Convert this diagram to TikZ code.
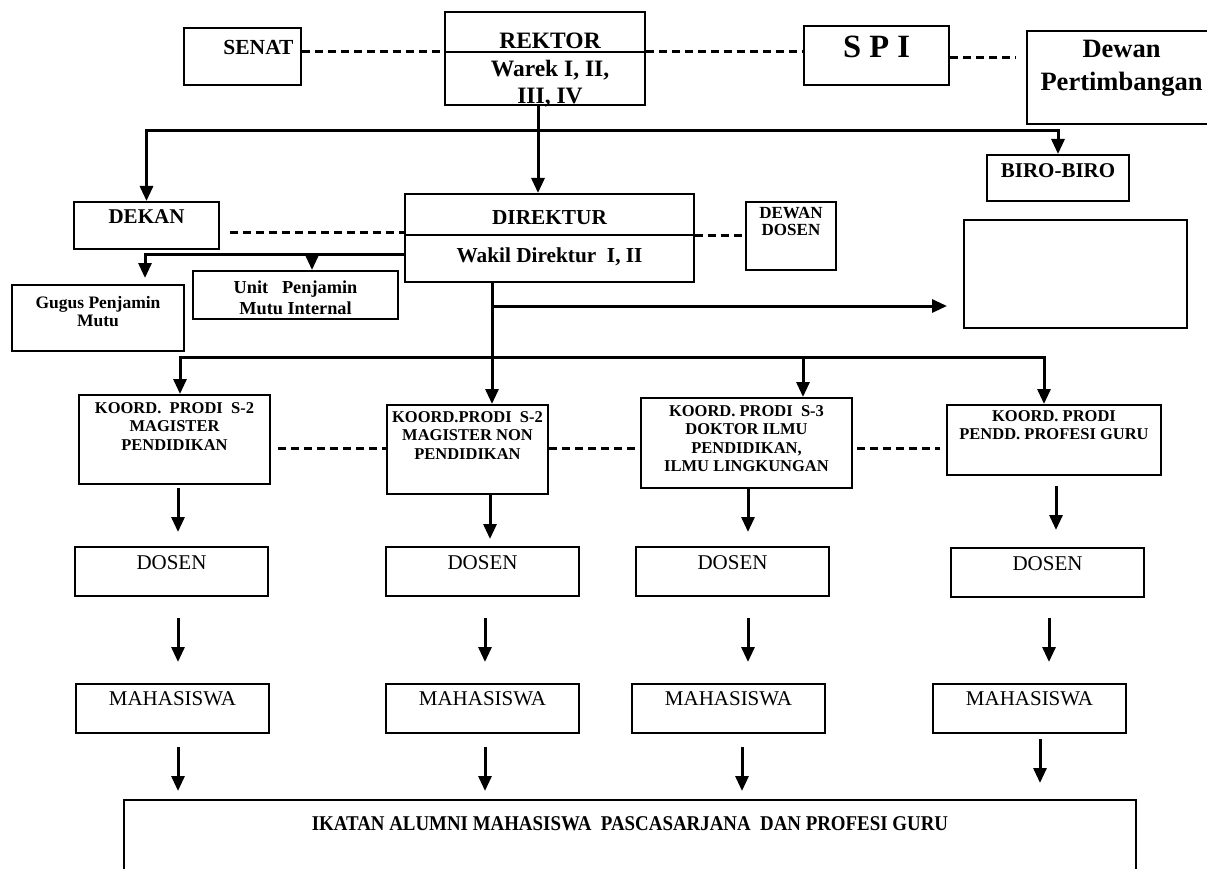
\documentclass[tikz,border=0pt]{standalone}
\usepackage{fontspec}
\setmainfont{Liberation Serif}
\newfontfamily\sempit[FakeStretch=0.9]{Liberation Serif}
\usetikzlibrary{arrows.meta, calc}
\newcommand{\uk}[2]{\fontsize{#1}{#2}\selectfont}
\newcommand{\baris}[1]{\begin{tabular}[t]{@{}c@{}}#1\end{tabular}}
\tikzstyle{kotak} = [rectangle, draw=black, line width=2pt, inner sep=0pt, anchor=north west, fill=white]
\tikzstyle{koord} = [kotak, font=\bfseries\uk{16.5}{18.3}]
\tikzstyle{tingkat} = [kotak, font=\uk{21}{25}, minimum width=193pt]
\tikzstyle{garis} = [line width=3pt, line cap=rect]
\tikzstyle{panah} = [line width=3pt, line cap=rect, -{Triangle[width=13pt,length=15pt]}]
\tikzstyle{putus} = [line width=3pt, dash pattern=on 8pt off 5pt]

\begin{document}
\begin{tikzpicture}[x=1pt, y=-1pt]
        \fill[white] (0,0) rectangle (1207,869);
        \clip (0,0) rectangle (1207,869);
        % pimpinan universitas
        \node (senat) [kotak, font=\bfseries\uk{21.5}{25}, minimum width=117pt, text height=27pt, text depth=30pt] at (183,27) {\hspace*{32pt}SENAT};
        \node (rektor) [kotak, font=\bfseries\uk{23.5}{27.5}, minimum width=200pt, text height=36.8pt, text depth=56.2pt] at (444,11) {\hspace*{10pt}\baris{REKTOR\\Warek I, II,\\III, IV}};
        \node (spi) [kotak, font=\bfseries\uk{32.5}{38}, minimum width=145pt, text height=31.8pt, text depth=27.2pt] at (803,25) {S P I};
        \node (dewan) [kotak, font=\bfseries\uk{26.5}{33}, minimum width=189pt, text height=26.3pt, text depth=66.7pt] at (1026,30) {\baris{Dewan\\Pertimbangan}};
        \node (biro) [kotak, font=\bfseries\uk{21}{25}, minimum width=142pt, text height=23pt, text depth=23pt] at (986,154) {BIRO-BIRO};
        \coordinate (rekbagi) at ([yshift=-41pt]rektor.north);
        \draw[line width=2pt] (rektor.west |- rekbagi) -- (rektor.east |- rekbagi);

        % pascasarjana
        \node (dekan) [kotak, font=\bfseries\uk{21}{25}, minimum width=145pt, text height=21pt, text depth=26pt] at (73,201) {DEKAN};
        \node (direktur) [kotak, font=\bfseries\uk{21.3}{38}, minimum width=289pt, text height=31pt, text depth=57pt] at (404,193) {\baris{DIREKTUR\\Wakil Direktur\ \ I, II}};
        \node (dewandosen) [kotak, font=\bfseries\uk{17}{17}, minimum width=90pt, text height=16.6pt, text depth=51.4pt] at (745,201) {\baris{DEWAN\\DOSEN}};
        \node (gugus) [kotak, font=\bfseries\uk{17.5}{18}, minimum width=172pt, text height=23.8pt, text depth=42.2pt] at (11,284) {\baris{Gugus Penjamin\\Mutu}};
        \node (unit) [kotak, font=\bfseries\uk{18.3}{21}, minimum width=205pt, text height=22pt, text depth=26pt] at (192,270) {\baris{Unit\ \ \ Penjamin\\Mutu Internal}};
        \node (kosong) [kotak, minimum width=223pt, minimum height=108pt] at (963,219) {};
        \coordinate (dirbagi) at ([yshift=-42pt]direktur.north);
        \draw[line width=2pt] (direktur.west |- dirbagi) -- (direktur.east |- dirbagi);

        % program studi
        \node (koord1) [koord, minimum width=191pt, text height=18.5pt, text depth=70.5pt] at (78,394) {\baris{KOORD.\ \ PRODI\ \ S-2\\MAGISTER\\PENDIDIKAN}};
        \node (koord2) [koord, minimum width=161pt, text height=17.5pt, text depth=71.5pt] at (386,404) {\baris{KOORD.PRODI\ \ S-2\\MAGISTER NON\\PENDIDIKAN}};
        \node (koord3) [koord, minimum width=211pt, text height=18.5pt, text depth=71.5pt] at (640,397) {\baris{KOORD. PRODI\ \ S-3\\DOKTOR ILMU\\PENDIDIKAN,\\ILMU LINGKUNGAN}};
        \node (koord4) [koord, minimum width=214pt, text height=16.5pt, text depth=53.5pt] at (946,404) {\baris{KOORD. PRODI\\PENDD. PROFESI GURU}};

        \node (dosen1) [tingkat, text height=22pt, text depth=27pt] at (74,546) {DOSEN};
        \node (dosen2) [tingkat, text height=22pt, text depth=27pt] at (385,546) {DOSEN};
        \node (dosen3) [tingkat, text height=22pt, text depth=27pt] at (635,546) {DOSEN};
        \node (dosen4) [tingkat, text height=22pt, text depth=27pt] at (950,547) {DOSEN};

        \node (maha1) [tingkat, text height=21pt, text depth=28pt] at (75,683) {MAHASISWA};
        \node (maha2) [tingkat, text height=21pt, text depth=28pt] at (385,683) {MAHASISWA};
        \node (maha3) [tingkat, text height=21pt, text depth=28pt] at (631,683) {MAHASISWA};
        \node (maha4) [tingkat, text height=21pt, text depth=28pt] at (932,683) {MAHASISWA};

        \node (ikatan) [kotak, font=\sempit\bfseries\uk{21}{24}, minimum width=1012pt, text height=30pt, text depth=60pt] at (123,799) {IKATAN ALUMNI MAHASISWA\ \ PASCASARJANA\ \ DAN PROFESI GURU};

        \coordinate (cabang) at (538,131);
        \coordinate (cabkiri) at (145,254);
        \coordinate (cabunit) at (312,254);
        \coordinate (cabdir) at (492,306);
        \coordinate (p1) at (180,357);
        \coordinate (p3) at (803,357);
        \coordinate (p4) at (1044,357);
        \coordinate (garisprodi) at (0,448);

        \draw [panah] (cabang |- rektor.south) -- (cabang |- direktur.north);
        \draw [panah] (cabang) -| (dekan.north);
        \draw [panah] (cabang) -| (biro.north);
        \draw [panah, shorten >=6pt] (direktur.west |- cabkiri) -- (cabkiri) -- (cabkiri |- gugus.north);
        \draw [panah] (cabunit) -- (cabunit |- unit.north);
        \draw [panah] (cabdir |- direktur.south) -- (cabdir |- koord2.north);
        \draw [panah, shorten >=16pt] (cabdir) -- (cabdir -| kosong.west);
        \draw [panah] (p4) -- (p1) -- (p1 |- koord1.north);
        \draw [panah] (p3) -- (p3 |- koord3.north);
        \draw [panah] (p4) -- (p4 |- koord4.north);

        \draw [panah, shorten <=4pt, shorten >=14pt] ([xshift=3.5pt]koord1.south) -- ([xshift=3.5pt]koord1.south |- dosen1.north);
        \draw [panah, shorten <=1pt, shorten >=7pt] ([xshift=22.5pt]koord2.south) -- ([xshift=22.5pt]koord2.south |- dosen2.north);
        \draw [panah, shorten <=1pt, shorten >=14pt] ([xshift=1.5pt]koord3.south) -- ([xshift=1.5pt]koord3.south |- dosen3.north);
        \draw [panah, shorten <=11pt, shorten >=17pt] ([xshift=2pt]koord4.south) -- ([xshift=2pt]koord4.south |- dosen4.north);

        \draw [panah, shorten <=22pt, shorten >=21pt] ([xshift=6.5pt]dosen1.south) -- ([xshift=6.5pt]dosen1.south |- maha1.north);
        \draw [panah, shorten <=22pt, shorten >=21pt] ([xshift=2.5pt]dosen2.south) -- ([xshift=2.5pt]dosen2.south |- maha2.north);
        \draw [panah, shorten <=22pt, shorten >=21pt] ([xshift=15.5pt]dosen3.south) -- ([xshift=15.5pt]dosen3.south |- maha3.north);
        \draw [panah, shorten <=21pt, shorten >=21pt] ([xshift=1.5pt]dosen4.south) -- ([xshift=1.5pt]dosen4.south |- maha4.north);

        \draw [panah, shorten <=14pt, shorten >=8pt] ([xshift=5.5pt]maha1.south) -- ([xshift=5.5pt]maha1.south |- ikatan.north);
        \draw [panah, shorten <=14pt, shorten >=8pt] ([xshift=2.5pt]maha2.south) -- ([xshift=2.5pt]maha2.south |- ikatan.north);
        \draw [panah, shorten <=14pt, shorten >=8pt] ([xshift=13.5pt]maha3.south) -- ([xshift=13.5pt]maha3.south |- ikatan.north);
        \draw [panah, shorten <=6pt, shorten >=16pt] ([xshift=10.5pt]maha4.south) -- ([xshift=10.5pt]maha4.south |- ikatan.north);

        \draw [putus] (senat.east |- rekbagi) -- (rektor.west |- rekbagi);
        \draw [putus] (rektor.east |- rekbagi) -- (spi.west |- rekbagi);
        \draw [putus, shorten >=10pt] ([yshift=-2.5pt]spi.east) -- ([yshift=-2.5pt]spi.east -| dewan.west);
        \draw [putus, shorten <=10pt] ([yshift=-6.5pt]dekan.east) -- ([yshift=-6.5pt]dekan.east -| direktur.west);
        \draw [putus] (direktur.east |- dirbagi) -- (dewandosen.west |- dirbagi);
        \draw [putus, shorten <=7pt] (koord1.east |- garisprodi) -- (koord2.west |- garisprodi);
        \draw [putus] (koord2.east |- garisprodi) -- (koord3.west |- garisprodi);
        \draw [putus, shorten <=4pt, shorten >=6pt] (koord3.east |- garisprodi) -- (koord4.west |- garisprodi);
    \end{tikzpicture}
\end{document}
